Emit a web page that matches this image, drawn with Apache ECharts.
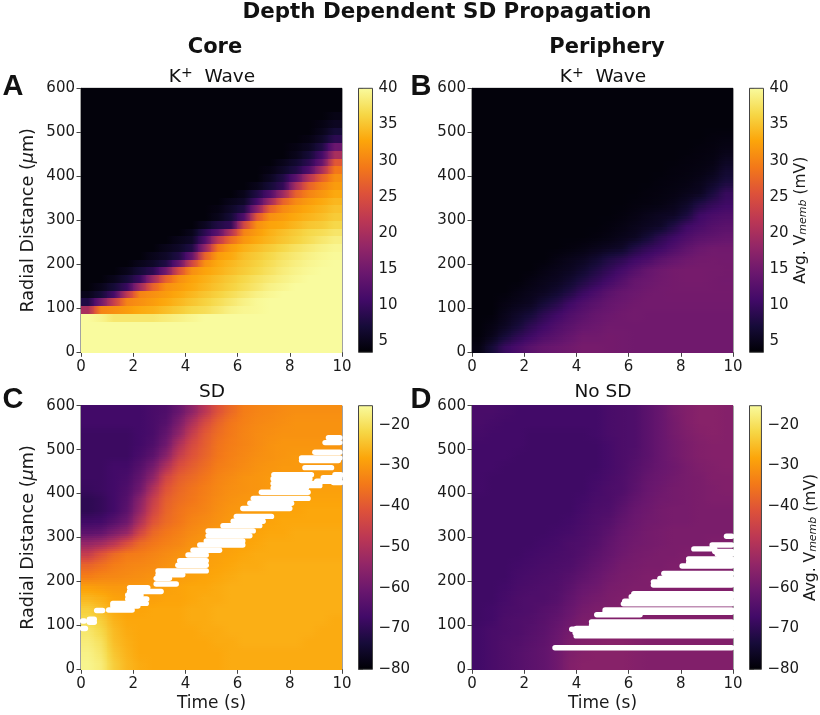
<!DOCTYPE html>
<html><head><meta charset="utf-8">
<script src="https://cdn.jsdelivr.net/npm/echarts@6/dist/echarts.min.js"></script>
<style>html,body{margin:0;padding:0;background:#fff}#c{width:820px;height:715px}</style></head>
<body><div id="c"></div>
<script>
// Each table: first row = lowest radial distance; columns = time bins of 0.5 s.
const coreK = [
[40,40,40,40,40,40,40,40,40,40,40,40,40,40,40,40,40,40,40,40],
[40,40,40,40,40,40,40,40,40,40,40,40,40,40,40,40,40,40,40,40],
[40,40,40,40,40,40,40,40,40,40,40,40,40,40,40,40,40,40,40,40],
[40,40,40,40,40,40,40,40,40,40,40,40,40,40,40,40,40,40,40,40],
[40,39.3,38,38,38,38,38.5,39,39.5,40,40,40,40,40,40,40,40,40,40,40],
[20,30,31,32,33,33.5,34.5,35.5,36.5,37,38,39,39.5,39.7,40,40,40,40,40,40],
[8,15,23,30,31,32,33,34,35,36,37,38,39,39.7,40,40,40,40,40,40],
[5,7,11,22,30,31,32,33,34,35,36,37,38,39,39.6,40,40,40,40,40],
[4,5,7,10,19,27,31,32,33,34,35,36,37,38,39,39.5,40,40,40,40],
[4,4,5,7,10,19,27,31,32.5,33.5,34.5,35.5,36.5,37.5,38.3,39,39.6,40,40,40],
[4,4,4,5,7,9,15,25,31,32.5,33.5,34.5,35.5,36.5,37.5,38.5,39.2,39.7,40,40],
[4,4,4,4,5,6,8,14,24,31,33,34,35,36,37,38,38.8,39.4,39.8,40],
[4,4,4,4,4,5,6,8,14,27,32,33,34.5,35.5,36.5,37.5,38.3,39,39.5,39.8],
[4,4,4,4,4,4,5,6,8,18,29,32,33.5,34.5,35.5,36.5,37.5,38.3,39,39.5],
[4,4,4,4,4,4,4,5,6,12,22,28,31.5,33,34,35,36,37,38,38.8],
[4,4,4,4,4,4,4,4,5,9,13,21,30,32,33.5,34.5,35.5,36.5,37,37.8],
[4,4,4,4,4,4,4,4,4,5.5,8,9.5,24,31,32.5,33,34,35,35.5,36.5],
[4,4,4,4,4,4,4,4,4,4,5,7,12,26,31,32,33,33.8,34.5,35.5],
[4,4,4,4,4,4,4,4,4,4,4.5,6,8,17,27,30.5,32,33,33.8,34.8],
[4,4,4,4,4,4,4,4,4,4,4,5,6,11,19,27,30.5,32,33,34],
[4,4,4,4,4,4,4,4,4,4,4,4,5,8,12,19,27,30,31.5,33],
[4,4,4,4,4,4,4,4,4,4,4,4,4,5,7,9.5,20,27,30,32],
[4,4,4,4,4,4,4,4,4,4,4,4,4,4,5.5,8,13,21,27,31],
[4,4,4,4,4,4,4,4,4,4,4,4,4,4,4.5,6,8,12,20,29],
[4,4,4,4,4,4,4,4,4,4,4,4,4,4,4,5,6.5,9,14,26],
[4,4,4,4,4,4,4,4,4,4,4,4,4,4,4,4,5,7,11,20],
[4,4,4,4,4,4,4,4,4,4,4,4,4,4,4,4,4.5,5.5,8,14.5],
[4,4,4,4,4,4,4,4,4,4,4,4,4,4,4,4,4,4.5,6,9],
[4,4,4,4,4,4,4,4,4,4,4,4,4,4,4,4,4,4,5,7],
[4,4,4,4,4,4,4,4,4,4,4,4,4,4,4,4,4,4,4.5,5.5],
[4,4,4,4,4,4,4,4,4,4,4,4,4,4,4,4,4,4,4,4.7],
[4,4,4,4,4,4,4,4,4,4,4,4,4,4,4,4,4,4,4,4],
[4,4,4,4,4,4,4,4,4,4,4,4,4,4,4,4,4,4,4,4],
[4,4,4,4,4,4,4,4,4,4,4,4,4,4,4,4,4,4,4,4]
];
const periK = [
[4.5,7,10,11.5,13,14,14.5,15,15.5,15.5,15.3,15.2,15,15,15,15,15,15,15,15],
[4,5,7,9,10.5,12,13,14,15,15,15.3,15.2,15,15,15,15,15,15,15,15],
[4,4.5,5.5,7,9,10.5,12,13,14,14.5,15,15,15,15,15,15,15,15,15,15],
[4,4,5,6,7,9,10.5,12,13,14,14.5,15,15.2,15,15,15,15,15,15,15],
[4,4,4.5,5,5.5,7,8.5,10.5,12,13,14,14.5,15,15.2,15.2,15.2,15.2,15.2,15.2,15.2],
[4,4,4,4.5,5,5.5,6.5,8,10,11.5,13,14,14.5,15,15.2,15.3,15.3,15.3,15.3,15.3],
[4,4,4,4,4.5,5,5.5,6.5,8,9.5,11,12.5,14,14.5,15,15.3,15.5,15.5,15.3,15.2],
[4,4,4,4,4,4.5,5,5.5,6.5,8,9.5,11,12.5,14,14.8,15.3,15.5,15.5,15.4,15.3],
[4,4,4,4,4,4,4.5,5,5.5,6.5,8,9,10.5,11.5,13,14,14.8,15.2,15.3,15.2],
[4,4,4,4,4,4,4,4.2,4.5,5,5.5,6,8,9.5,10.5,12,13.5,14.5,15,15],
[4,4,4,4,4,4,4,4,4,4.2,4.5,5,5.5,7,9,10.5,12,13,13.5,14],
[4,4,4,4,4,4,4,4,4,4,4.2,4.5,5,5.5,6,8,10.5,11.5,12.5,13],
[4,4,4,4,4,4,4,4,4,4,4,4.2,4.5,5,5.5,5.8,7.5,10.5,11.5,12],
[4,4,4,4,4,4,4,4,4,4,4,4,4.2,4.3,4.5,5,6,8,9.5,10.5],
[4,4,4,4,4,4,4,4,4,4,4,4,4,4.2,4.3,4.5,5,5.5,7.5,9.8],
[4,4,4,4,4,4,4,4,4,4,4,4,4,4,4.2,4.3,4.5,5,6,7.5],
[4,4,4,4,4,4,4,4,4,4,4,4,4,4,4,4.2,4.3,4.5,5,6.5],
[4,4,4,4,4,4,4,4,4,4,4,4,4,4,4,4,4.2,4.3,4.5,5.5],
[4,4,4,4,4,4,4,4,4,4,4,4,4,4,4,4,4,4.2,4.3,4.7],
[4,4,4,4,4,4,4,4,4,4,4,4,4,4,4,4,4,4,4.2,4.3],
[4,4,4,4,4,4,4,4,4,4,4,4,4,4,4,4,4,4,4,4],
[4,4,4,4,4,4,4,4,4,4,4,4,4,4,4,4,4,4,4,4],
[4,4,4,4,4,4,4,4,4,4,4,4,4,4,4,4,4,4,4,4],
[4,4,4,4,4,4,4,4,4,4,4,4,4,4,4,4,4,4,4,4]
];
const coreSD = [
[-16.5,-18,-23,-26,-27.5,-28,-28,-28,-28,-28,-28,-27.5,-27.5,-27.5,-27.5,-27.5,-27.5,-27.5,-27.5,-27.5],
[-17,-19,-24,-26.5,-28,-28,-28,-28,-28,-28,-28,-27.5,-27.5,-27.5,-27.5,-27.5,-27.5,-27.5,-27.5,-27.5],
[-18,-20,-25,-27,-28,-28,-28,-28,-28,-28,-27.5,-27.5,-27,-27,-27,-27,-27,-27.5,-27.5,-27.5],
[-19,-21.5,-25.5,-27.5,-28,-28,-28,-28,-28,-27.5,-27.5,-27,-27,-27,-27,-27,-27,-27,-27.5,-27.5],
[-21,-23,-26.5,-28,-28,-28,-28,-28,-27.5,-27.5,-27,-27,-27,-27,-27,-27,-27,-27,-27,-27.5],
[-23,-25,-27.5,-28.5,-28.5,-28,-28,-28,-27.5,-27.5,-27,-27,-27,-27,-27,-27,-27,-27,-27,-27],
[-26,-27,-28.5,-29,-29,-29,-28.5,-28.5,-28,-27.5,-27.5,-27,-27,-27,-27,-27,-27,-27,-27,-27],
[-29,-29.5,-30,-30,-30,-29.5,-29,-28.5,-28,-28,-27.5,-27,-27,-27,-27,-27,-27,-27,-27,-27],
[-34,-33,-32.5,-32,-31.5,-31,-30,-29.5,-29,-28.5,-28,-27.5,-27,-27,-27,-27,-27,-27,-27,-27],
[-38,-36,-34,-33,-32.5,-32,-31,-30,-29.5,-29,-28.5,-28,-27.5,-27.5,-27,-27,-27,-27,-27,-27],
[-46,-41,-37,-34.5,-34,-33,-32,-31,-30,-29.5,-29,-28.5,-28,-27.5,-27.5,-27.5,-27.5,-27.5,-27.5,-27.5],
[-54,-52,-48,-42,-37,-35,-33.5,-32.5,-31,-30,-29.5,-29,-28.5,-28,-27.5,-27.5,-27.5,-27.5,-27.5,-27.5],
[-63,-62,-58,-54,-44,-37.5,-35,-33.5,-32,-31,-30,-29.5,-29,-28.5,-28,-28,-27.5,-27.5,-27.5,-27.5],
[-67.5,-67,-64,-60,-50,-41,-37,-35,-33,-32,-31,-30,-29.5,-29,-28.5,-28,-28,-28,-28,-28],
[-70,-69,-67,-63,-54,-44,-38,-35.5,-34,-33,-31.5,-30.5,-30,-29.5,-29,-28.5,-28.5,-28,-28,-28],
[-70,-69,-67,-64,-56,-46,-39,-36.5,-35,-33.5,-32,-31,-30.5,-30,-29.5,-29,-28.5,-28.5,-28.5,-28.5],
[-68.5,-68,-67,-65,-60,-50,-41,-37.5,-35.5,-34,-32.5,-31.5,-31,-30.5,-30,-29.5,-29,-29,-29,-29],
[-68,-68,-67,-66,-62,-55,-44,-39,-37,-35,-33,-32,-31,-30.5,-30,-30,-29.5,-29.5,-29.5,-29.5],
[-68,-68,-67,-67,-64,-59,-50,-42,-39,-36.5,-34,-33,-32,-31,-30.5,-30,-30,-30,-30,-30],
[-68,-68,-68,-68,-66,-63,-56,-46,-41,-38,-35,-33.5,-32.5,-31.5,-31,-30.5,-30,-30,-30,-30],
[-68,-68,-68,-68,-67,-65,-60,-50,-43,-39,-35.5,-34,-33,-32,-31,-30.5,-30.5,-30.5,-30.5,-30.5],
[-68,-68,-68,-68,-67,-66,-62,-55,-46,-40,-36.5,-34.5,-33,-32,-31.5,-31,-31,-31,-31,-31],
[-67,-67,-67,-67,-67,-66,-64,-58,-50,-43,-38,-35,-33.5,-32.5,-32,-31.5,-31,-31,-31,-31],
[-67,-67,-67,-67,-67,-66,-65,-61,-55,-48,-41,-37,-34,-33,-32.5,-32,-31.5,-31.5,-31.5,-31.5]
];
const periSD = [
[-67,-66,-65,-64,-63,-62,-60,-57,-56,-56,-56,-56,-56.5,-57,-57,-57,-57,-57,-57,-57],
[-67,-66,-65,-64,-63,-62,-60,-57.5,-56.5,-56,-56,-56,-56.5,-57,-57,-57,-57,-57,-57,-57],
[-67,-66,-65,-64.5,-63.5,-62.5,-60.5,-58,-57,-56.5,-56,-56,-56.5,-57,-57,-57,-57,-57,-57,-57],
[-67,-66,-65.5,-65,-64,-63,-61,-59,-57.5,-57,-56.5,-56.5,-57,-57,-57,-57,-57,-57,-57,-57],
[-67.5,-67,-65.5,-65,-64.5,-63.5,-62,-60,-58,-57.5,-57,-57,-57,-57,-57,-57,-57,-57,-57,-57],
[-67.5,-67,-66,-65.5,-65,-64,-63,-61,-59,-58,-57.5,-57,-57,-57,-57,-57,-57,-57,-57,-57],
[-67.5,-67.5,-66.5,-65.5,-65,-65,-64,-62,-60,-59,-58,-57.5,-57,-57,-57,-57,-57,-57,-57,-57],
[-67.5,-67.5,-67,-66,-65.5,-65,-64.5,-63,-61,-60,-58.5,-58,-57.5,-57.5,-57,-57,-57,-57,-57,-57],
[-67.5,-67.5,-67.5,-66.5,-66,-65.5,-65,-64,-62.5,-61,-59.5,-58.5,-58,-57.5,-57.5,-57.5,-57.5,-57,-57,-57],
[-67.5,-67.5,-67.5,-67,-66.5,-66,-65.5,-65,-63.5,-62,-60.5,-59,-58.5,-58,-58,-57.5,-57.5,-57.5,-57.5,-57.5],
[-67.5,-67.5,-67.5,-67.5,-67,-66.5,-66,-65.5,-64.5,-63,-61.5,-60,-59,-58.5,-58,-58,-57.5,-57.5,-57.5,-57.5],
[-67.5,-67.5,-67.5,-67.5,-67.5,-67,-66.5,-65.5,-65,-64,-62,-60.5,-59.5,-59,-58.5,-58,-58,-58,-57.5,-57.5],
[-67.5,-67.5,-67.5,-67.5,-67.5,-67.5,-67,-66.5,-65.5,-64.5,-63,-61,-60,-59,-58.5,-58,-58,-58,-58,-58],
[-67.5,-67.5,-67.5,-67.5,-67.5,-67.5,-67.5,-67,-66,-65,-64,-62,-60.5,-59.5,-59,-58.5,-58.5,-58,-58,-58],
[-67.5,-67.5,-67.5,-67.5,-67.5,-67.5,-67.5,-67.5,-66.5,-65.5,-65,-63,-61,-60,-59,-58.5,-58.5,-58,-58,-58],
[-67.5,-67.5,-67.5,-67.5,-67.5,-67.5,-67.5,-67.5,-67,-66,-65.5,-64,-62,-60.5,-59.5,-59,-58.5,-58,-57.5,-57.5],
[-67,-67.5,-67.5,-67.5,-67.5,-67.5,-67.5,-67.5,-67.5,-66.5,-65.5,-65,-63,-61,-60,-59,-58.5,-58,-57.5,-57],
[-67,-67.5,-67.5,-67.5,-67.5,-67.5,-67.5,-67.5,-67.5,-67,-66,-65,-63.5,-61.5,-60.5,-59.5,-58.5,-58,-57,-57],
[-67,-67,-67.5,-67.5,-67.5,-67.5,-67.5,-67.5,-67.5,-67.5,-66.5,-65.5,-64,-62.5,-61,-60,-58.5,-57.5,-57,-56.5],
[-67,-67,-67,-67.5,-67.5,-67.5,-67.5,-67.5,-67.5,-67.5,-66.5,-65.5,-64.5,-63,-61,-59.5,-58,-57,-56.5,-56.5],
[-67,-67,-67,-67,-67.5,-67.5,-67.5,-67.5,-67.5,-67.5,-66.5,-65.5,-65,-63,-61,-59.5,-58,-57,-56.5,-56.5],
[-66.5,-67,-67,-67,-67.5,-67.5,-67.5,-67.5,-67.5,-67,-66,-65.5,-65,-63,-61,-59,-57.5,-56.5,-56,-56.5],
[-66,-66.5,-67,-67,-67,-67,-67,-67,-67,-67,-66,-65.5,-65,-63,-61,-59,-57,-56,-56,-56.5],
[-66,-66,-66.5,-67,-67,-67,-67,-67,-67,-67,-66,-65.5,-65,-63,-61,-58.5,-57,-56,-56,-56.5]
];
// White gaps: [time start, time end, radial distance]
const coreGaps = [[.06,.13,110],[.32,.51,114],[.32,.51,107],[.06,.17,93],[.6,.83,134],[1.06,1.96,135],[1.22,2.18,144],[1.22,2.5,150],[1.79,2.52,160],[1.79,2.3,169],[1.86,3.07,177],[1.86,2.56,186],[2.88,3.65,194],[2.88,3.39,207],[2.95,4.8,224],[2.95,3.9,215],[3.71,4.8,237],[3.78,4.8,247],[4.1,4.8,260],[4.29,5.31,271],[4.55,6.2,283],[4.8,6.2,292],[4.87,6.47,304],[4.87,6.6,315],[5.44,6.85,327],[5.83,6.98,337],[5.95,7.3,348],[6.2,8,366],[6.47,8.07,378],[6.6,8.7,389],[6.91,8.7,403],[7.36,8.64,413],[7.36,9.15,423],[7.36,8.77,434],[7.39,8.83,443],[8.7,9.15,418],[9.03,9.92,428],[9.28,9.92,436],[9.67,9.96,425],[9.73,9.96,443],[8.58,9.6,459],[8.45,9.86,475],[8.96,9.92,494],[8.45,9.92,481],[9.35,9.92,516],[9.48,9.92,527]];
const periGaps = [[3.18,9.95,49],[3.99,9.95,76],[3.95,9.95,83],[3.82,4.1,91],[4,9.95,93],[4.58,9.95,101],[4.58,9.95,108],[4.78,6.44,124],[5.1,9.95,130],[5.1,9.95,135],[5.8,9.95,149],[5.85,9.95,155],[6.1,9.95,165],[6.2,9.95,172],[6.95,9.95,192],[6.95,9.95,199],[7.2,9.95,207],[7.35,9.95,218],[8.05,9.95,235],[8.3,9.95,243],[8.3,9.95,251],[9.4,9.95,262],[9.3,9.95,268],[8.5,9.3,274],[9.2,9.95,283],[9.75,9.95,303]];
const kRange = [3.5, 40];
const vRange = [-80, -15.3];
const kTicks = [5,10,15,20,25,30,35,40];
const vTicks = [-80,-70,-60,-50,-40,-30,-20];
const inferno = ['#000004','#160b39','#420a68','#6a176e','#932667','#bc3754','#dd513a','#f37819','#fca50a','#f6d746','#f9fb9e'];

const FONT = 'DejaVu Sans';
const TXT = '#1a1a1a', LINE = '#444';
function rgb(h){return [1,3,5].map(i=>parseInt(h.substr(i,2),16));}
const stops = inferno.map(rgb);
function colorOf(v,range){
  let f=(v-range[0])/(range[1]-range[0]); f=Math.max(0,Math.min(1,f))*(stops.length-1);
  const i=Math.min(Math.floor(f),stops.length-2), k=f-i;
  const c=stops[i].map((s,j)=>Math.round(s+(stops[i+1][j]-s)*k));
  return 'rgb('+c.join(',')+')';
}
// Cell shading: colours blend between the typed cell values, as the figure's image smoothing does.
function heatSeries(table,range,idx,strips){
  const rows=table.length, cols=table[0].length, dr=600/rows, dt=0.5, data=[];
  table.forEach((row,i)=>row.forEach((v,j)=>data.push([j*dt,i*dr,v])));
  const clamp=(a,n)=>Math.max(0,Math.min(n-1,a));
  const at=(rf,cf)=>{
    const r0=clamp(Math.floor(rf),rows),r1=clamp(Math.floor(rf)+1,rows),c0=clamp(Math.floor(cf),cols),c1=clamp(Math.floor(cf)+1,cols);
    const fr=rf-Math.floor(rf),fc=cf-Math.floor(cf);
    const a=table[r0][c0]+(table[r0][c1]-table[r0][c0])*fc, b=table[r1][c0]+(table[r1][c1]-table[r1][c0])*fc;
    return a+(b-a)*fr;
  };
  return {type:'custom',xAxisIndex:idx,yAxisIndex:idx,data,silent:true,
    encode:{x:0,y:1},
    renderItem(p,api){
      const t0=api.value(0), r0=api.value(1), i=Math.round(r0/dr), j=Math.round(t0/dt), children=[];
      const a=api.coord([t0,r0]), b=api.coord([t0+dt,r0+dr]);
      const x0=Math.floor(a[0]), x1=Math.ceil(b[0]);
      for(let s=0;s<strips;s++){
        const rf=strips===1?i:i-0.5+(s+0.5)/strips;
        const yb=a[1]+(b[1]-a[1])*s/strips, yt=a[1]+(b[1]-a[1])*(s+1)/strips;
        const y0=Math.floor(yt), y1=Math.ceil(yb);
        children.push({type:'rect',shape:{x:x0,y:y0,width:x1-x0,height:y1-y0},
          style:{fill:{type:'linear',x:0,y:0,x2:1,y2:0,colorStops:[
            {offset:0,color:colorOf(at(rf,j-0.5),range)},
            {offset:.5,color:colorOf(at(rf,j),range)},
            {offset:1,color:colorOf(at(rf,j+0.5),range)}]}}});
      }
      return {type:'group',children};
    }};
}
function gapSeries(gaps,idx){
  return {type:'custom',xAxisIndex:idx,yAxisIndex:idx,data:gaps,silent:true,z:5,
    encode:{x:[0,1],y:2},
    renderItem(p,api){
      const a=api.coord([api.value(0),api.value(2)]), b=api.coord([api.value(1),api.value(2)]);
      return {type:'line',shape:{x1:a[0],y1:a[1],x2:b[0],y2:b[1]},style:{stroke:'#fff',lineWidth:5.4,lineCap:'round'}};
    }};
}
function barSeries(range,idx){
  return {type:'custom',xAxisIndex:idx,yAxisIndex:idx,data:[[0,1,range[0],range[1]]],silent:true,
    encode:{x:[0,1],y:[2,3]},
    renderItem(p,api){
      const a=api.coord([api.value(0),api.value(2)]), b=api.coord([api.value(1),api.value(3)]);
      return {type:'rect',shape:{x:a[0],y:b[1],width:b[0]-a[0],height:a[1]-b[1]},
        style:{stroke:LINE,lineWidth:1,fill:{type:'linear',x:0,y:1,x2:0,y2:0,
          colorStops:inferno.map((c,i)=>({offset:i/(inferno.length-1),color:c}))}}};
    }};
}
const panels=[
 {left:81,top:88.3,height:264,h:coreK,r:kRange,t:kTicks,yName:true,xName:false,barName:false,strips:1},
 {left:472,top:88.3,height:264,h:periK,r:kRange,t:kTicks,yName:false,xName:false,barName:true,strips:5},
 {left:81,top:405.7,height:263.6,h:coreSD,r:vRange,t:vTicks,yName:true,xName:true,barName:false,g:coreGaps,strips:5},
 {left:472,top:405.7,height:263.6,h:periSD,r:vRange,t:vTicks,yName:false,xName:true,barName:true,g:periGaps,strips:5}
];
const grid=[],xAxis=[],yAxis=[],series=[];
const lab={fontFamily:FONT,fontSize:15,color:TXT};
panels.forEach((p,i)=>{
  const n=grid.length;
  grid.push({left:p.left,top:p.top,width:261,height:p.height,show:true,borderColor:LINE,borderWidth:1,backgroundColor:'transparent'});
  xAxis.push({gridIndex:n,type:'value',min:0,max:10,interval:2,splitLine:{show:false},
    axisLine:{onZero:false,lineStyle:{color:LINE}},axisTick:{length:4.5,lineStyle:{color:LINE}},axisLabel:{...lab,margin:7,hideOverlap:false},
    name:p.xName?'Time (s)':'',nameLocation:'middle',nameGap:26,nameTextStyle:{fontFamily:FONT,fontSize:17,color:TXT}});
  yAxis.push({gridIndex:n,type:'value',min:0,max:600,interval:100,splitLine:{show:false},
    axisLine:{onZero:false,lineStyle:{color:LINE}},axisTick:{length:4.5,lineStyle:{color:LINE}},axisLabel:{...lab,margin:6},
    name:p.yName?'Radial Distance ({it|μ}m)':'',nameLocation:'middle',nameGap:44,
    nameTextStyle:{fontFamily:FONT,fontSize:17.6,color:TXT,rich:{it:{fontFamily:FONT,fontStyle:'italic',fontSize:17.6,color:TXT}}}});
  series.push(heatSeries(p.h,p.r,n,p.strips));
  if(p.g) series.push(gapSeries(p.g,n));
  const b=n+1;
  grid.push({left:p.left+277.5,top:p.top,width:14,height:p.height});
  xAxis.push({gridIndex:b,type:'value',min:0,max:1,show:false});
  yAxis.push({gridIndex:b,type:'value',min:p.r[0],max:p.r[1],position:'right',splitLine:{show:false},
    axisLine:{show:false},
    axisTick:{customValues:p.t,length:4.5,lineStyle:{color:LINE}},
    axisLabel:{...lab,margin:6,customValues:p.t,formatter:v=>String(v).replace('-','\u2212')},
    name:p.barName?'Avg. V{sub|memb} (mV)':'',nameLocation:'middle',nameRotate:90,nameGap:p.r===vRange?40:28,
    nameTextStyle:{fontFamily:FONT,fontSize:15.5,color:TXT,rich:{sub:{fontFamily:FONT,fontStyle:'italic',fontSize:11,color:TXT,padding:[5,0,0,0]}}}});
  series.push(barSeries(p.r,b));
});
function t(text,left,top,size,bold,family,rich){
  return {text,left,top,textAlign:'center',padding:0,textStyle:{fontFamily:family||FONT,fontSize:size,fontWeight:bold?'bold':'normal',color:'#111',rich:rich||{}}};
}
const sup={sup:{fontFamily:FONT,fontSize:14,color:'#111',padding:[0,0,8,0]}};
const title=[
 t('Depth Dependent SD Propagation',447,2,21.4,true),
 t('Core',215,37,21,true),
 t('Periphery',607,37,21,true),
 t('K{sup|+}  Wave',212,66,18.5,false,FONT,sup),
 t('K{sup|+}  Wave',603,66,18.5,false,FONT,sup),
 t('SD',212,383,18.5),
 t('No SD',603,383,18.5),
 t('A',13,72,29,true,'Liberation Sans'),
 t('B',421,72,29,true,'Liberation Sans'),
 t('C',13,385,29,true,'Liberation Sans'),
 t('D',421,385,29,true,'Liberation Sans')
];
const chart=echarts.init(document.getElementById('c'),null,{renderer:'canvas'});
chart.setOption({animation:false,backgroundColor:'#fff',title,grid,xAxis,yAxis,series});
</script></body></html>
